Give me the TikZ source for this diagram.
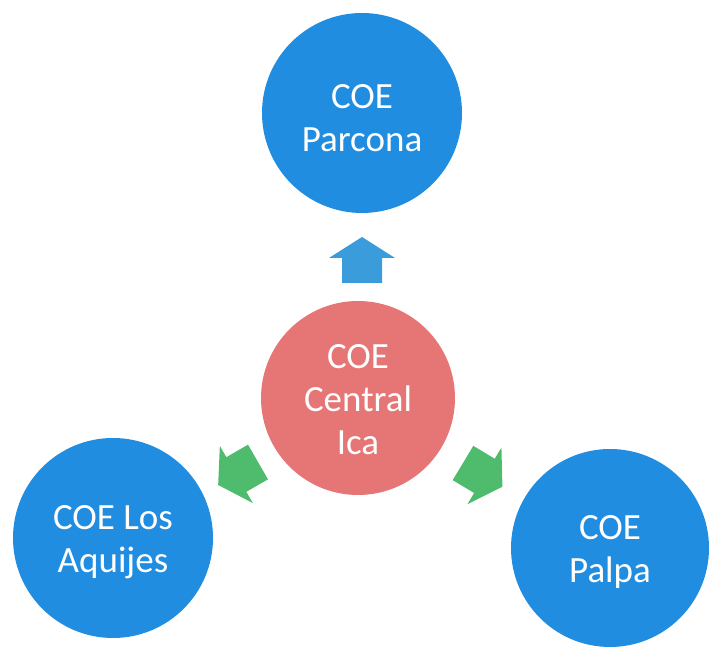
\documentclass[tikz,border=0pt]{standalone}
\usepackage{fontspec}
\setmainfont{Carlito}
\definecolor{coeblue}{RGB}{33,141,224}
\definecolor{coered}{RGB}{230,118,118}
\definecolor{coegreen}{RGB}{78,188,108}
\definecolor{arrowblue}{RGB}{58,156,218}
\begin{document}
\begin{tikzpicture}[x=1pt,y=1pt,
  coe/.style={circle, fill=#1, inner sep=0pt},
  coetext/.style={inner sep=0pt, text=white, align=center,
    font=\fontsize{37}{43}\selectfont},
  blockarrow/.pic={\fill[pic actions] (0,-20) -- (25,-20) -- (25,-33) -- (46,0) -- (25,33) -- (25,20) -- (0,20) -- cycle;}]
\useasboundingbox (0,0) rectangle (709,652);
\node[coe=coered, minimum size=194pt] (central) at (358,254) {};
\node[coe=coeblue, minimum size=200pt] (parcona) at (362,539) {};
\node[coe=coeblue, minimum size=200pt] (aquijes) at (113,114) {};
\node[coe=coeblue, minimum size=198pt] (palpa) at (610,104) {};
\node[coetext] (central-t) at ([yshift=-2pt]central.center) {COE\\Central\\Ica};
\node[coetext] (parcona-t) at ([yshift=-5pt]parcona.center) {COE\\Parcona};
\node[coetext] (aquijes-t) at ([yshift=-4pt]aquijes.center) {COE Los\\Aquijes};
\node[coetext] (palpa-t) at ([yshift=-4pt]palpa.center) {COE\\Palpa};
\pic[fill=arrowblue, rotate=90] at (362,369) {blockarrow};
\pic[fill=coegreen, rotate=210] at (258,190) {blockarrow};
\pic[fill=coegreen, rotate=-31] at (463,189) {blockarrow};
\end{tikzpicture}
\end{document}
